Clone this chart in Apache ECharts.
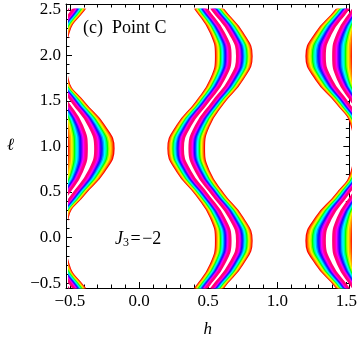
<!DOCTYPE html>
<html>
<head>
<meta charset="utf-8">
<script src="https://cdn.jsdelivr.net/npm/echarts@6/dist/echarts.min.js"></script>
<style>
  html, body { margin: 0; padding: 0; background: #fff; }
  #main { width: 360px; height: 343px; }
</style>
</head>
<body>
<div id="main"></div>
<script>
// tick values
var hTicks = [-0.5, 0, 0.5, 1, 1.5];
var hMinor = [-0.5, -0.4, -0.3, -0.2, -0.1, 0, 0.1, 0.2, 0.3, 0.4, 0.5, 0.6, 0.7, 0.8, 0.9, 1, 1.1, 1.2, 1.3, 1.4, 1.5];
var lTicks = [-0.5, 0, 0.5, 1, 1.5, 2, 2.5];
var lMinor = [-0.5, -0.4, -0.3, -0.2, -0.1, 0, 0.1, 0.2, 0.3, 0.4, 0.5, 0.6, 0.7, 0.8, 0.9, 1, 1.1, 1.2, 1.3, 1.4,
              1.5, 1.6, 1.7, 1.8, 1.9, 2, 2.1, 2.2, 2.3, 2.4, 2.5];

// bands: l samples, centre line h (white core) and half width (h units)
var bandL  = [-0.75, -0.5, -0.25, 0, 0.25, 0.5, 0.75, 1, 1.25, 1.5, 1.75, 2, 2.25, 2.5, 2.75];
var midC   = [0.38, 0.5, 0.62, 0.67, 0.62, 0.5, 0.38, 0.33, 0.38, 0.5, 0.62, 0.67, 0.62, 0.5, 0.38];
var midW   = [0.11, 0.10, 0.115, 0.13, 0.115, 0.10, 0.115, 0.13, 0.115, 0.10, 0.115, 0.13, 0.115, 0.10, 0.11];
var rightC = [1.61, 1.5, 1.39, 1.35, 1.39, 1.5, 1.61, 1.65, 1.61, 1.5, 1.39, 1.35, 1.39, 1.5, 1.61];
var rightW = [0.10, 0.10, 0.135, 0.165, 0.135, 0.10, 0.10, 0.12, 0.10, 0.10, 0.135, 0.165, 0.135, 0.10, 0.10];
var leftC  = [-0.39, -0.5, -0.61, -0.65, -0.61, -0.5, -0.39, -0.35, -0.39, -0.5, -0.61, -0.65, -0.61, -0.5, -0.39];
var leftW  = [0.135, 0.10, 0.10, 0.12, 0.095, 0.10, 0.135, 0.165, 0.135, 0.10, 0.095, 0.12, 0.10, 0.10, 0.135];

// hue from the outer edge (red) to the white core (pink)
var hues = [0, 22, 42, 58, 85, 120, 155, 180, 200, 225, 250, 278, 300, 318, 332];
var serif = 'Liberation Serif';

function bandSeries(C, W) {
  var out = [];
  var n = hues.length;
  var core = 0.16;
  for (var side = -1; side <= 1; side += 2) {
    for (var k = 0; k < n; k++) {
      var t = side * (1 - (1 - core) * (k + 0.5) / n);
      out.push({
        type: 'line', xAxisIndex: 4, yAxisIndex: 4,
        smooth: 0.5, symbol: 'none', silent: true,
        lineStyle: { color: 'hsl(' + hues[k] + ',100%,50%)', width: 2.4 },
        data: bandL.map(function (l, i) { return [C[i] + t * W[i], l]; })
      });
    }
  }
  return out;
}

function fmt(v) {
  return (v < 0 ? '\u2212' : '') + Math.abs(v).toFixed(1);
}

function xAx(pos, vals, len, labels, line) {
  return {
    type: 'value', gridIndex: 0, position: pos, min: -0.5286, max: 1.5214,
    axisLine: { show: line, onZero: false, lineStyle: { color: '#000', width: 1 } },
    axisTick: { inside: true, length: len, customValues: vals, lineStyle: { color: '#000' } },
    axisLabel: labels ? { customValues: hTicks, formatter: fmt, margin: 5, fontFamily: serif, fontSize: 17, color: '#000' } : { show: false },
    splitLine: { show: false }
  };
}
function yAx(pos, vals, len, labels, line) {
  return {
    type: 'value', gridIndex: 0, position: pos, min: -0.5542, max: 2.565,
    axisLine: { show: line, onZero: false, lineStyle: { color: '#000', width: 1 } },
    axisTick: { inside: true, length: len, customValues: vals, lineStyle: { color: '#000' } },
    axisLabel: labels ? { customValues: lTicks, formatter: fmt, margin: 5, fontFamily: serif, fontSize: 17, color: '#000' } : { show: false },
    splitLine: { show: false }
  };
}

var xs = [
  xAx('bottom', hTicks, 6, true, true),
  xAx('bottom', hMinor, 3.5, false, false),
  xAx('top', hTicks, 6, false, true),
  xAx('top', hMinor, 3.5, false, false),
  { type: 'value', gridIndex: 1, min: -0.5, max: 1.5, show: false }
];
xs[0].name = 'h';
xs[0].nameLocation = 'middle';
xs[0].nameGap = 33;
xs[0].nameTextStyle = { fontFamily: serif, fontSize: 17, fontStyle: 'italic', color: '#000' };

var ys = [
  yAx('left', lTicks, 6, true, true),
  yAx('left', lMinor, 3.5, false, false),
  yAx('right', lTicks, 6, false, true),
  yAx('right', lMinor, 3.5, false, false),
  { type: 'value', gridIndex: 1, min: -0.5, max: 2.5, show: false }
];
ys[0].name = '\u2113';
ys[0].nameLocation = 'middle';
ys[0].nameGap = 52;
ys[0].nameRotate = 0;
ys[0].nameTextStyle = { fontFamily: serif, fontSize: 17, fontStyle: 'italic', color: '#000' };

var chart = echarts.init(document.getElementById('main'));
chart.setOption({
  animation: false,
  backgroundColor: '#fff',
  grid: [
    { left: 66, top: 4, width: 287, height: 288 },
    { left: 70, top: 10, width: 280, height: 277 }
  ],
  xAxis: xs,
  yAxis: ys,
  graphic: [
    { type: 'text', left: 83, top: 19, style: { text: '(c)  Point C', fontFamily: serif, fontSize: 18, fill: '#000' } },
    { type: 'text', left: 115, top: 230, style: {
        text: '{j|J}{s|3}{t|\u200a=\u200a\u22122}',
        rich: {
          j: { fontFamily: serif, fontSize: 18, fontStyle: 'italic', fill: '#000' },
          s: { fontFamily: serif, fontSize: 12, fill: '#000', padding: [8, 0, 0, 0] },
          t: { fontFamily: serif, fontSize: 18, fill: '#000' }
        }
      } }
  ],
  series: [].concat(bandSeries(leftC, leftW), bandSeries(midC, midW), bandSeries(rightC, rightW))
});
</script>
</body>
</html>
